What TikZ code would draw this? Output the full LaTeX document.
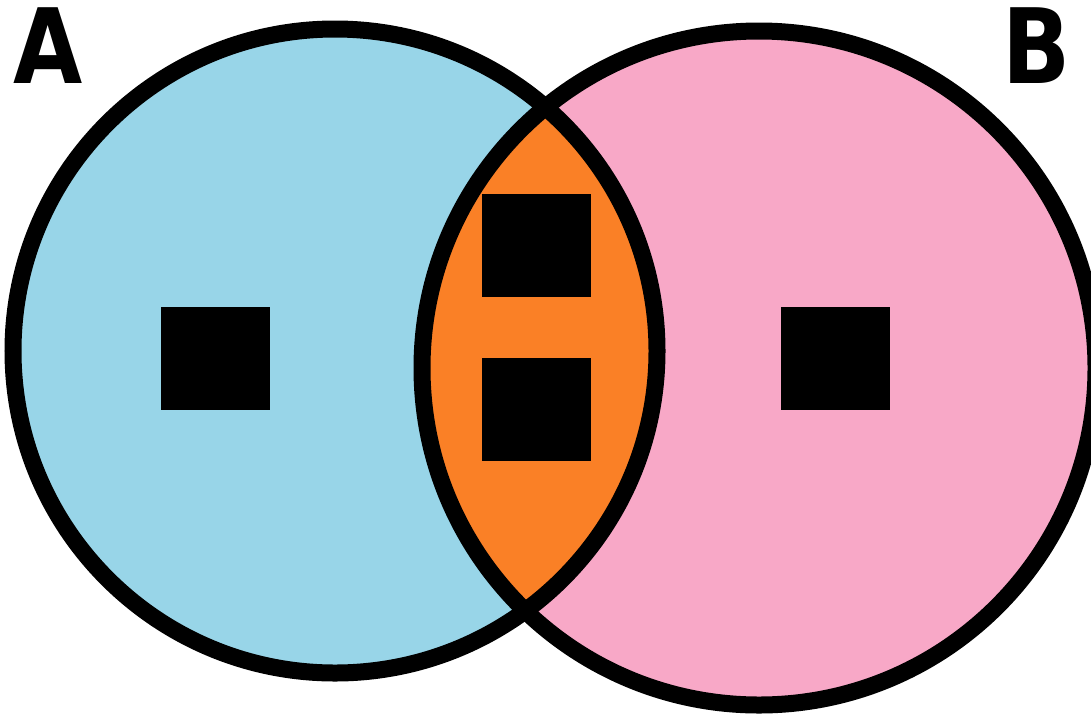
\documentclass[tikz,border=0pt]{standalone}
\usepackage{fontspec}
\newfontfamily\labelfont{DejaVu Sans}
\definecolor{setA}{RGB}{152,213,232}
\definecolor{setB}{RGB}{248,168,199}
\definecolor{setAB}{RGB}{250,128,38}
\tikzset{
  ring/.style={draw=black, line width=17pt},
  elem/.style={fill=black, draw=none, minimum width=109pt, minimum height=103pt, inner sep=0pt},
  setlabel/.style={inner sep=0pt, font=\labelfont\bfseries\fontsize{104}{104}\selectfont}
}
\begin{document}
\begin{tikzpicture}[x=1pt,y=-1pt]
\useasboundingbox (0,0) rectangle (1091,713);
\fill[white] (0,0) rectangle (1091,713);
\coordinate (cA) at (335,351);
\coordinate (cB) at (759,368);
\fill[setA] (cA) circle[radius=322pt];
\fill[setB] (cB) circle[radius=337pt];
\begin{scope}
  \clip (cA) circle[radius=322pt];
  \fill[setAB] (cB) circle[radius=337pt];
\end{scope}
\draw[ring] (cA) circle[radius=322pt];
\draw[ring] (cB) circle[radius=337pt];
\node[elem] (a1) at (215.5,358.5) {};
\node[elem] (b1) at (835.5,358.5) {};
\node[elem] (ab1) at (536.5,245) {};
\node[elem] (ab2) at (536.5,409) {};
\node[setlabel] (labA) at (48.5,46) {\scalebox{0.86}[1]{A}};
\node[setlabel] (labB) at (1036.5,46) {\scalebox{0.86}[1]{B}};
\end{tikzpicture}
\end{document}
